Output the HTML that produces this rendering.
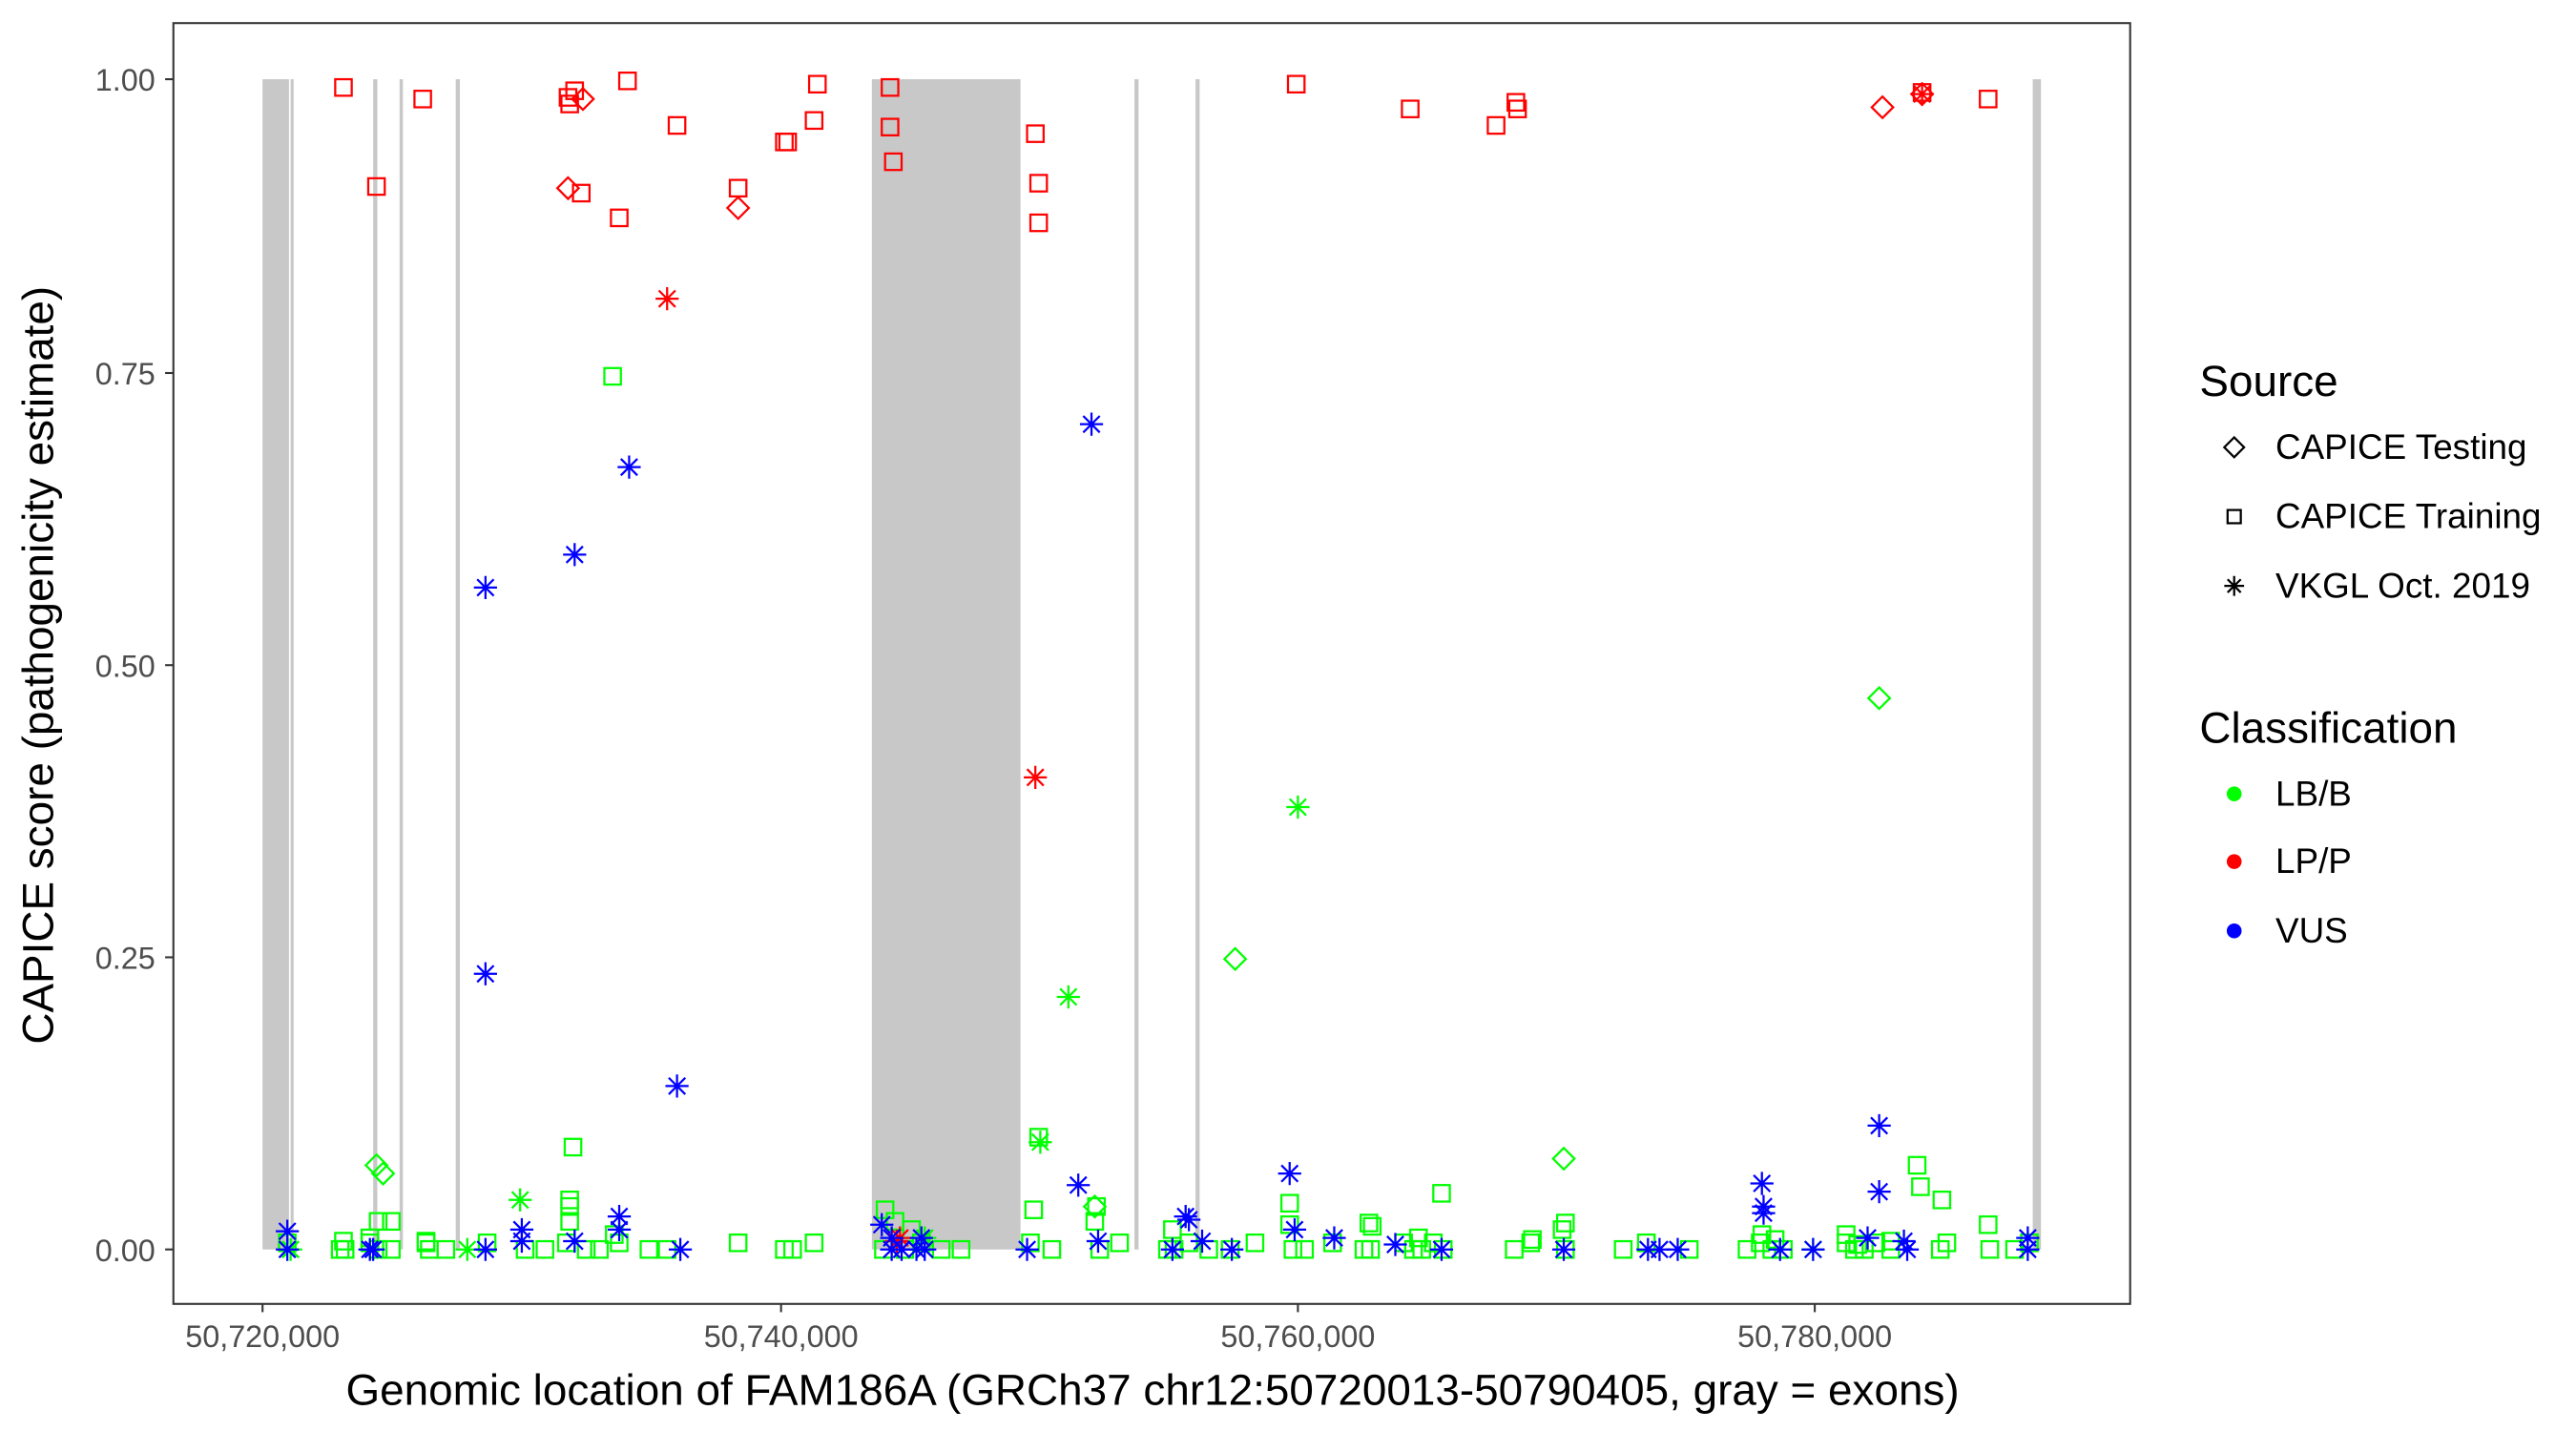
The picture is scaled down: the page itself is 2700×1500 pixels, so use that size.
<!DOCTYPE html>
<html><head><meta charset="utf-8">
<style>
html,body{margin:0;padding:0;background:#fff;}
svg{display:block;}
text{font-family:"Liberation Sans",Arial,sans-serif;}
</style></head>
<body>
<svg id="s" width="2700" height="1500" viewBox="0 0 1560 867" preserveAspectRatio="none" xmlns="http://www.w3.org/2000/svg">
<rect x="0" y="0" width="1560" height="867" fill="#fff"/>
<g fill="#c8c8c8">
<rect x="159" y="48" width="16" height="709"/>
<rect x="176" y="48" width="1.8" height="709"/>
<rect x="226" y="48" width="2.5" height="709"/>
<rect x="242" y="48" width="2" height="709"/>
<rect x="276" y="48" width="2.5" height="709"/>
<rect x="528" y="48" width="90" height="709"/>
<rect x="687" y="48" width="2.5" height="709"/>
<rect x="724" y="48" width="2.5" height="709"/>
<rect x="1231" y="48" width="5" height="709"/>
</g>
<g id="pts" fill="none" stroke-width="1.3"></g>
<rect x="105" y="14" width="1185" height="776" fill="none" stroke="#333" stroke-width="1.2"/>
<g stroke="#333" stroke-width="1.2">
<line x1="100" y1="48" x2="105" y2="48"/><line x1="100" y1="226" x2="105" y2="226"/>
<line x1="100" y1="403" x2="105" y2="403"/><line x1="100" y1="580" x2="105" y2="580"/>
<line x1="100" y1="757" x2="105" y2="757"/>
<line x1="159" y1="790" x2="159" y2="795"/><line x1="473" y1="790" x2="473" y2="795"/>
<line x1="786" y1="790" x2="786" y2="795"/><line x1="1099" y1="790" x2="1099" y2="795"/>
</g>
<g fill="#4d4d4d" font-size="18.7" text-anchor="end">
<text x="94" y="55">1.00</text><text x="94" y="233">0.75</text>
<text x="94" y="410">0.50</text><text x="94" y="587">0.25</text>
<text x="94" y="764">0.00</text>
</g>
<g fill="#4d4d4d" font-size="18.7" text-anchor="middle">
<text x="159" y="816">50,720,000</text><text x="473" y="816">50,740,000</text>
<text x="786" y="816">50,760,000</text><text x="1099" y="816">50,780,000</text>
</g>
<text x="698" y="851" font-size="26.5" text-anchor="middle" fill="#000">Genomic location of FAM186A (GRCh37 chr12:50720013-50790405, gray = exons)</text>
<text transform="translate(32,403) rotate(-90)" font-size="26.5" text-anchor="middle" fill="#000">CAPICE score (pathogenicity estimate)</text>
<g fill="#000">
<text x="1332" y="240" font-size="26.5">Source</text>
<text x="1378" y="278" font-size="21.3">CAPICE Testing</text>
<text x="1378" y="320" font-size="21.3">CAPICE Training</text>
<text x="1378" y="362" font-size="21.3">VKGL Oct. 2019</text>
<text x="1332" y="450" font-size="26.5">Classification</text>
<text x="1378" y="488" font-size="21.3">LB/B</text>
<text x="1378" y="529" font-size="21.3">LP/P</text>
<text x="1378" y="571" font-size="21.3">VUS</text>
</g>
<g fill="none" stroke="#000" stroke-width="1.3">
<path d="M1353 265 L1359 271 L1353 277 L1347 271 Z"/>
<rect x="1349" y="309" width="8" height="8"/>
<path d="M1353 349 V361 M1347 355 H1359 M1349 351 L1357 359 M1357 351 L1349 359"/>
</g>
<circle cx="1353" cy="481" r="4.5" fill="#00ff00"/>
<circle cx="1353" cy="522" r="4.5" fill="#ff0000"/>
<circle cx="1353" cy="564" r="4.5" fill="#0000ff"/>
</svg>
<script>
var R="#ff0000",G="#00ff00",B="#0000ff";
var pts=[];
function add(t,c,list){list.forEach(function(p){pts.push([t,c,p[0],p[1]]);});}
var gx=[174,206,209,224,229,237,258,260,270,295,318,330,343,355,363,375,393,404,447,475,480,493,535,548,558,570,582,624,637,666,678,707,711,720,732,745,760,783,790,807,826,830,850,856,861,868,874,917,927,948,983,997,1023,1058,1066,1073,1080,1118,1123,1129,1136,1145,1175,1179,1205,1220,1229];
add('s',G,gx.map(function(x,i){return [x,757-(i%3==0?4:0)];}));
add('s',G,[[371,228],[347,695],[629,689],[345,727],[345,731],[345,740],[229,740],[237,740],[208,752],[258,752],[536,733],[542,740],[663,740],[664,731],[710,745],[781,729],[781,742],[873,723],[829,741],[831,743],[859,750],[948,741],[946,745],[928,751],[1067,748],[1161,706],[1163,719],[1176,727],[1204,742],[1118,748],[1075,751],[1125,754],[626,733],[224,750],[372,748],[552,745],[1145,752]]);
add('d',G,[[228,706],[232,711],[748,581],[1138,423],[947,702],[663,731]]);
add('a',G,[[315,727],[630,692],[647,604],[786,489],[283,757],[176,757],[560,750],[1098,757]]);
add('s',R,[[208,53],[228,113],[256,60],[344,59],[348,55],[345,63],[352,117],[375,132],[380,49],[410,76],[447,114],[475,86],[477,86],[493,73],[495,51],[539,53],[539,77],[541,98],[627,81],[629,111],[629,135],[785,51],[854,66],[906,76],[918,62],[919,66],[1164,56],[1204,60]]);
add('d',R,[[344,114],[353,60],[447,126],[1140,65],[1164,57]]);
add('a',R,[[404,181],[627,471],[1164,57],[543,752],[545,750]]);
add('a',B,[[294,356],[294,590],[348,336],[381,283],[410,658],[661,257],[653,718],[1138,682],[1138,722],[781,711],[1067,717],[1068,731],[1068,735],[375,737],[375,745],[316,745],[348,752],[174,746],[174,757],[224,757],[294,757],[412,757],[534,742],[540,757],[558,750],[546,757],[622,757],[665,752],[710,757],[718,737],[720,739],[728,752],[746,757],[784,745],[808,750],[845,754],[873,757],[947,757],[998,757],[1005,757],[1016,757],[1078,757],[1098,757],[1131,750],[1153,752],[1155,757],[1228,750],[1228,757],[540,750],[560,757],[226,757],[316,752],[555,757]]);
var g=document.getElementById('pts'),h='';
pts.forEach(function(p){var t=p[0],c=p[1],x=p[2],y=p[3];
 if(t=='s')h+='<rect x="'+(x-5)+'" y="'+(y-5)+'" width="10" height="10" stroke="'+c+'"/>';
 else if(t=='d')h+='<path d="M'+x+' '+(y-6.5)+'L'+(x+6.5)+' '+y+'L'+x+' '+(y+6.5)+'L'+(x-6.5)+' '+y+'Z" stroke="'+c+'"/>';
 else h+='<path d="M'+x+' '+(y-7)+'V'+(y+7)+'M'+(x-7)+' '+y+'H'+(x+7)+'M'+(x-5)+' '+(y-5)+'L'+(x+5)+' '+(y+5)+'M'+(x+5)+' '+(y-5)+'L'+(x-5)+' '+(y+5)+'" stroke="'+c+'"/>';
});
g.innerHTML=h;
</script>
</body></html>
